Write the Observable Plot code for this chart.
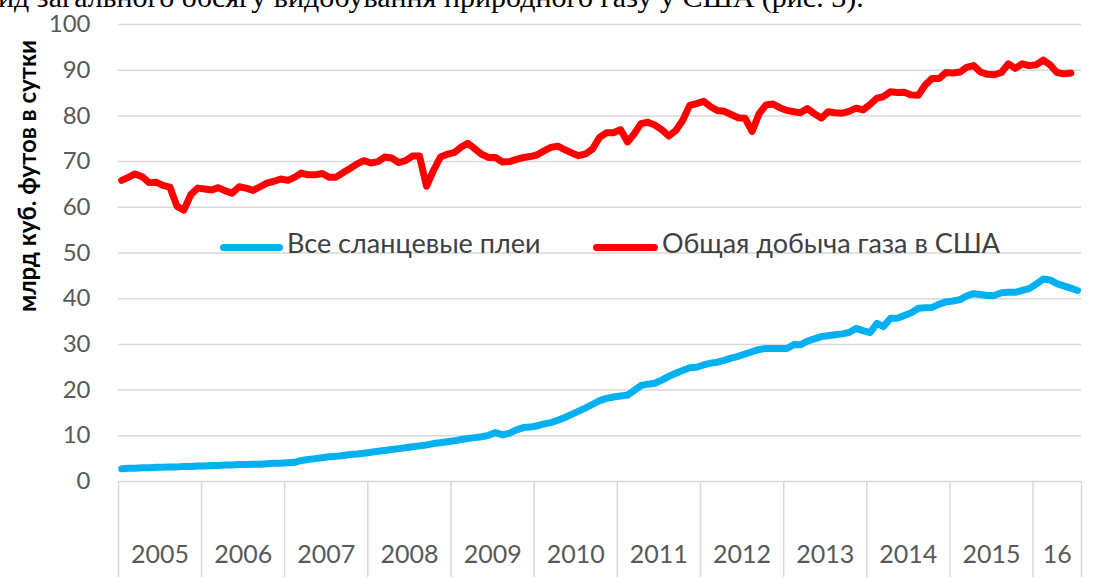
<!DOCTYPE html>
<html>
<head>
<meta charset="utf-8">
<script src="https://cdn.jsdelivr.net/npm/d3@7"></script>
<script src="https://cdn.jsdelivr.net/npm/@observablehq/plot@0.6"></script>
<style>
  body { margin: 0; background: #fff; }
  #wrap { position: relative; width: 1109px; height: 579px; overflow: hidden; font-family: Lato, "Open Sans", sans-serif; background:#fff; }
  #doc { position: absolute; left: -2px; top: -18px; font-family: "Liberation Serif", "Times New Roman", serif; font-size: 30px; line-height: 30px; white-space: nowrap; color: #000; }
  #ytitle { position: absolute; left: 26px; top: 176px; transform: translate(-50%, -50%) rotate(-90deg); font-weight: bold; font-size: 24px; white-space: nowrap; color: #000; }
  .sw { position: absolute; height: 7px; border-radius: 4px; }
  .lt { position: absolute; font-size: 27px; line-height: 27px; color: #404040; white-space: nowrap; }
  #chart { position: absolute; left: 0; top: 0; }
</style>
</head>
<body>
<div id="wrap">
  <div id="chart"></div>
  <div id="doc">ид загального обсягу видобування природного газу у США (рис. 3).</div>
  <div id="ytitle">млрд куб. футов в сутки</div>
  <div class="sw" style="left:220px;top:244px;width:63px;background:#00B0F0"></div>
  <div class="lt" style="left:287px;top:229px">Все сланцевые плеи</div>
  <div class="sw" style="left:593px;top:244px;width:65px;background:#FF0000"></div>
  <div class="lt" style="left:662px;top:229px">Общая добыча газа в США</div>
</div>
<script>
// ---- Data (monthly, starting January 2005) ----
const seriesNames = ["Все сланцевые плеи", "Общая добыча газа в США"];
const seriesColors = ["#00B0F0", "#FF0000"];

const shaleValues = [
  // 2005
  2.8, 2.9, 2.9, 3.0, 3.0, 3.1, 3.1, 3.2, 3.2, 3.3, 3.3, 3.4,
  // 2006
  3.4, 3.5, 3.5, 3.6, 3.6, 3.7, 3.7, 3.8, 3.8, 3.9, 4.0, 4.0,
  // 2007
  4.1, 4.2, 4.6, 4.8, 5.0, 5.2, 5.4, 5.5, 5.7, 5.9, 6.0, 6.2,
  // 2008
  6.4, 6.6, 6.8, 7.0, 7.2, 7.4, 7.6, 7.8, 8.0, 8.3, 8.5, 8.7,
  // 2009
  8.9, 9.2, 9.4, 9.6, 9.8, 10.1, 10.7, 10.2, 10.6, 11.3, 11.8, 11.9,
  // 2010
  12.2, 12.6, 12.9, 13.4, 14.0, 14.7, 15.4, 16.1, 16.9, 17.7, 18.2, 18.5,
  // 2011
  18.7, 18.9, 19.9, 21.0, 21.3, 21.5, 22.2, 23.0, 23.7, 24.3, 24.9, 25.0,
  // 2012
  25.5, 25.9, 26.1, 26.5, 27.0, 27.4, 27.9, 28.4, 28.9, 29.1, 29.1, 29.1,
  // 2013
  29.1, 30.0, 29.9, 30.7, 31.2, 31.7, 31.9, 32.1, 32.3, 32.6, 33.5, 33.0,
  // 2014
  32.6, 34.6, 33.9, 35.7, 35.7, 36.3, 36.9, 37.9, 38.0, 38.1, 38.8, 39.3,
  // 2015
  39.5, 39.8, 40.6, 41.1, 40.9, 40.7, 40.7, 41.3, 41.4, 41.4, 41.8, 42.2,
  // 2016
  43.2, 44.3, 44.1, 43.3, 42.8, 42.3, 41.8
];

const totalValues = [
  // 2005
  65.9, 66.6, 67.3, 66.7, 65.4, 65.5, 64.8, 64.4, 60.2, 59.4, 62.8, 64.2,
  // 2006
  64.0, 63.8, 64.3, 63.6, 63.1, 64.5, 64.2, 63.7, 64.5, 65.3, 65.7, 66.2,
  // 2007
  65.9, 66.6, 67.5, 67.1, 67.1, 67.4, 66.6, 66.6, 67.6, 68.5, 69.5, 70.2,
  // 2008
  69.7, 70.0, 71.0, 70.8, 69.8, 70.2, 71.2, 71.2, 64.6, 68.0, 71.0, 71.6,
  // 2009
  72.0, 73.2, 74.0, 72.8, 71.6, 70.9, 70.9, 69.9, 70.0, 70.5, 70.9, 71.1,
  // 2010
  71.5, 72.4, 73.1, 73.4, 72.6, 71.9, 71.3, 71.7, 72.8, 75.3, 76.3, 76.3,
  // 2011
  77.0, 74.3, 76.0, 78.3, 78.6, 78.0, 77.0, 75.6, 76.8, 79.0, 82.3, 82.7,
  // 2012
  83.2, 82.0, 81.2, 81.0, 80.3, 79.6, 79.5, 76.6, 80.5, 82.4, 82.6, 81.8,
  // 2013
  81.2, 80.9, 80.7, 81.6, 80.5, 79.5, 80.9, 80.7, 80.6, 81.0, 81.7, 81.3,
  // 2014
  82.5, 83.9, 84.2, 85.3, 85.1, 85.2, 84.6, 84.5, 86.8, 88.2, 88.2, 89.5,
  // 2015
  89.4, 89.6, 90.6, 91.0, 89.6, 89.1, 89.0, 89.5, 91.4, 90.4, 91.4, 91.0,
  // 2016
  91.2, 92.2, 91.2, 89.5, 89.2, 89.4
];

const yearStarts = [2005, 2006, 2007, 2008, 2009, 2010, 2011, 2012, 2013, 2014, 2015, 2016];
const yearLabels = ["2005", "2006", "2007", "2008", "2009", "2010", "2011", "2012", "2013", "2014", "2015", "16"];
const yTicks = [0, 10, 20, 30, 40, 50, 60, 70, 80, 90, 100];
const yTitle = "млрд куб. футов в сутки";

// ---- Build tables ----
const monthDate = (i) => new Date(Date.UTC(2005, i, 15));
const rows = [];
shaleValues.forEach((v, i) => rows.push({date: monthDate(i), value: v, series: seriesNames[0]}));
totalValues.forEach((v, i) => rows.push({date: monthDate(i), value: v, series: seriesNames[1]}));

const xStart = new Date(Date.UTC(2005, 0, 1));
const xEnd = new Date(Date.UTC(2016, 7, 1));
const separators = yearStarts.map(y => new Date(Date.UTC(y, 0, 1))).concat([xEnd]);
const labelDates = separators.slice(0, -1).map((d, i) => new Date((+d + +separators[i + 1]) / 2));
const labelMap = new Map(labelDates.map((d, i) => [+d, yearLabels[i]]));

const chart = Plot.plot({
  width: 1109,
  height: 579,
  marginLeft: 118,
  marginRight: 28,
  marginTop: 24,
  marginBottom: 98,
  style: {fontFamily: "Lato, 'Open Sans', sans-serif", background: "transparent", overflow: "visible"},
  x: {type: "utc", domain: [xStart, xEnd]},
  y: {domain: [0, 100]},
  color: {domain: seriesNames, range: seriesColors},
  marks: [
    Plot.gridY(yTicks, {stroke: "#d9d9d9", strokeOpacity: 1, strokeWidth: 1.5}),
    Plot.axisY(yTicks, {tickSize: 0, tickPadding: 28, fontSize: 24, fill: "#595959", label: null}),
    Plot.axisX(separators, {tickSize: 96, stroke: "#d9d9d9", strokeWidth: 1.5, strokeOpacity: 1, tickFormat: () => "", label: null}),
    Plot.axisX(labelDates, {tickSize: 0, tickPadding: 64, fontSize: 25, fill: "#595959", tickFormat: d => labelMap.get(+d), label: null}),
    Plot.line(rows, {x: "date", y: "value", z: "series", stroke: "series", strokeWidth: 7, strokeLinecap: "round", strokeLinejoin: "round"})
  ]
});
document.getElementById("chart").appendChild(chart);
</script>
</body>
</html>
